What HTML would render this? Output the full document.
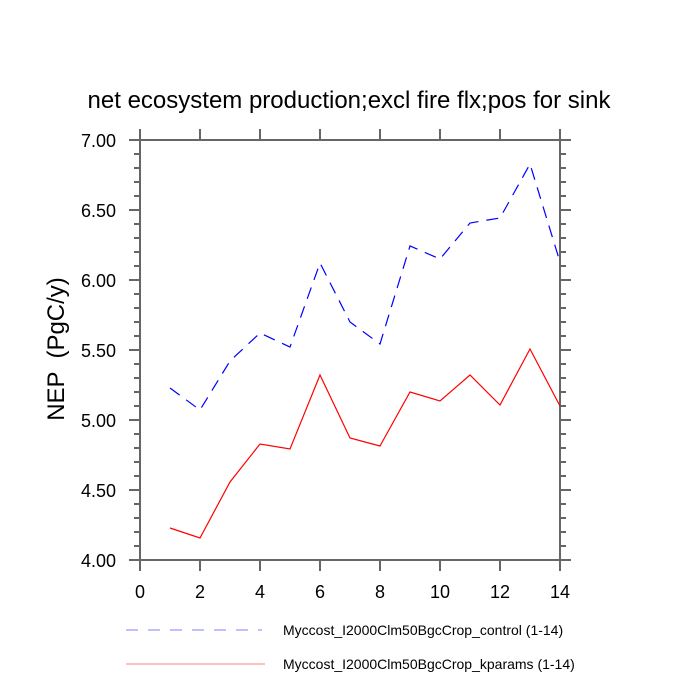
<!DOCTYPE html>
<html><head><meta charset="utf-8"><style>
html,body{margin:0;padding:0;background:#fff}
svg{display:block}
text{font-family:"Liberation Sans",sans-serif;fill:#000}
</style></head><body>
<svg width="700" height="700" viewBox="0 0 700 700" xmlns="http://www.w3.org/2000/svg">
<g id="ticks" stroke="#666" stroke-width="2"></g>
<rect x="140" y="140" width="420" height="420" fill="none" stroke="#666" stroke-width="2"/>
<text x="349" y="108" font-size="24" text-anchor="middle">net ecosystem production;excl fire flx;pos for sink</text>
<text transform="translate(64,349) rotate(-90)" font-size="24" text-anchor="middle" xml:space="preserve">NEP  (PgC/y)</text>
<g font-size="18" text-anchor="end">
<text x="116" y="147">7.00</text><text x="116" y="217">6.50</text><text x="116" y="287">6.00</text>
<text x="116" y="357">5.50</text><text x="116" y="427">5.00</text><text x="116" y="497">4.50</text><text x="116" y="567">4.00</text>
</g>
<g font-size="18" text-anchor="middle">
<text x="140" y="598">0</text><text x="200" y="598">2</text><text x="260" y="598">4</text><text x="320" y="598">6</text>
<text x="380" y="598">8</text><text x="440" y="598">10</text><text x="500" y="598">12</text><text x="560" y="598">14</text>
</g>
<polyline fill="none" stroke="#0000ff" stroke-width="1.2" stroke-dasharray="12,8" points="170,388 200,410 230,361 260,333 290,347 320,263 350,322 380,344 410,246 440,259 470,223 500,218 530,164 560,262"/>
<polyline fill="none" stroke="#ff0000" stroke-width="1.2" points="170,528 200,538 230,482 260,444 290,449 320,375 350,438 380,446 410,392 440,401 470,375 500,405 530,349 560,406"/>
<line x1="126" y1="630" x2="262" y2="630" stroke="#8080ff" stroke-width="1" stroke-dasharray="12,10"/>
<line x1="126" y1="664" x2="265" y2="664" stroke="#ff8080" stroke-width="1"/>
<text x="283" y="635" font-size="14">Myccost_I2000Clm50BgcCrop_control (1-14)</text>
<text x="283" y="669" font-size="14">Myccost_I2000Clm50BgcCrop_kparams (1-14)</text>
</svg>
<script>
var g=document.getElementById('ticks'),s='';
for(var i=0;i<=30;i++){var y=140+i*14,maj=i%5==0;
s+='<line x1="'+(maj?129:134)+'" y1="'+y+'" x2="140" y2="'+y+'"/>';
s+='<line x1="560" y1="'+y+'" x2="'+(maj?571:566)+'" y2="'+y+'"/>';}
for(var j=0;j<=7;j++){var x=140+j*60;
s+='<line x1="'+x+'" y1="560" x2="'+x+'" y2="571"/>';
s+='<line x1="'+x+'" y1="129" x2="'+x+'" y2="140"/>';}
g.innerHTML=s;
</script>
</body></html>
